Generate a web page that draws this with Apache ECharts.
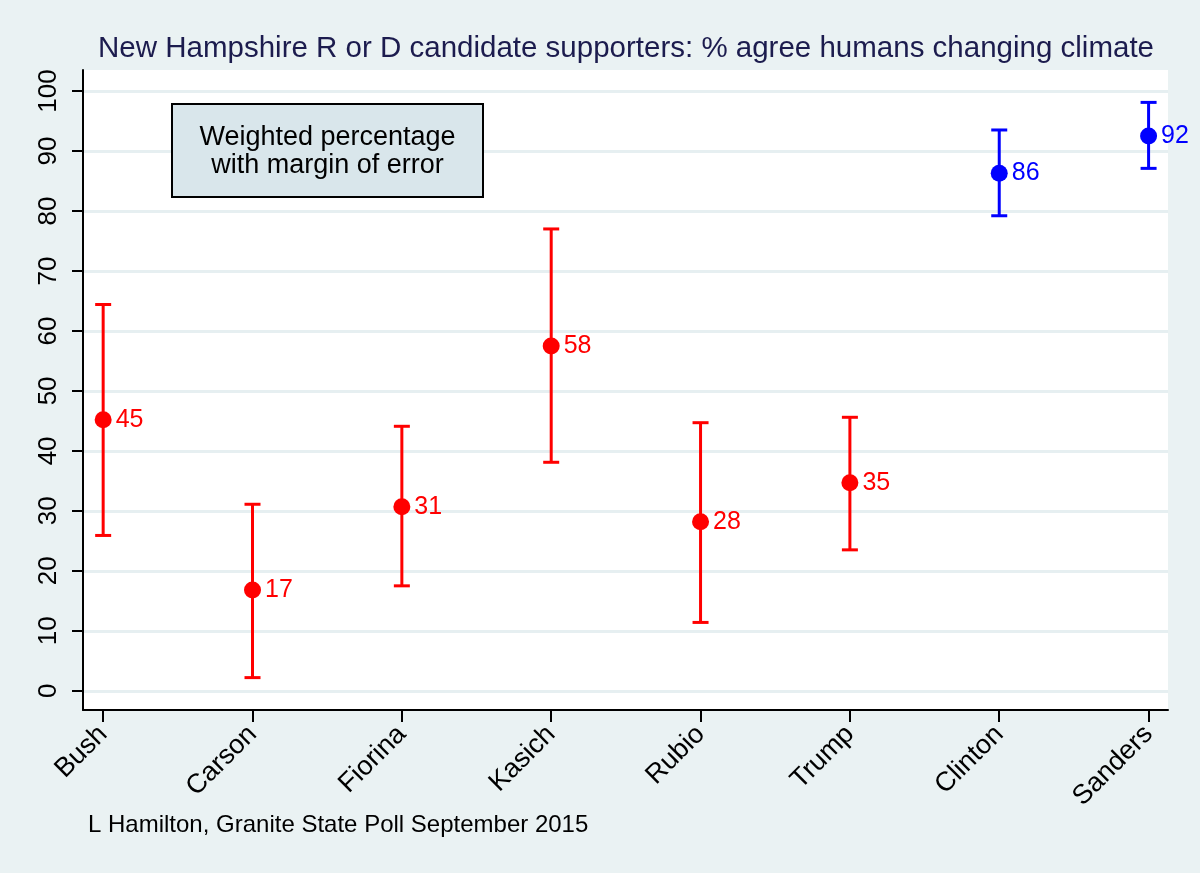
<!DOCTYPE html>
<html>
<head>
<meta charset="utf-8">
<script src="https://cdn.jsdelivr.net/npm/echarts@6/dist/echarts.min.js"></script>
<style>
html,body{margin:0;padding:0;background:#EAF2F3;}
#chart{width:1200px;height:873px;}
</style>
</head>
<body>
<div id="chart"></div>
<script>
const candidates = ['Bush','Carson','Fiorina','Kasich','Rubio','Trump','Clinton','Sanders'];
const party = ['R','R','R','R','R','R','D','D'];
const pct = [45.2, 16.8, 30.7, 57.5, 28.2, 34.7, 86.3, 92.5];
const lower = [25.9, 2.2, 17.5, 38.1, 11.4, 23.5, 79.2, 87.1];
const upper = [64.4, 31.1, 44.1, 77.0, 44.7, 45.6, 93.5, 98.1];
const pctLabels = ['45','17','31','58','28','35','86','92'];
const yTicks = [0,10,20,30,40,50,60,70,80,90,100];
const xTicks = [0,1,2,3,4,5,6,7];

const colorOf = p => p === 'R' ? '#FF0000' : '#0000FF';
const FONT = 'Arial, "Liberation Sans", sans-serif';

const pointData = candidates.map((c, i) => ({
  value: [i, pct[i]],
  itemStyle: {color: colorOf(party[i]), opacity: 1},
  label: {color: colorOf(party[i]), formatter: pctLabels[i]}
}));
const barData = candidates.map((c, i) => [i, lower[i], upper[i], i]);

const chart = echarts.init(document.getElementById('chart'), null, {renderer: 'canvas'});
chart.setOption({
  backgroundColor: '#EAF2F3',
  animation: false,
  textStyle: {fontFamily: FONT},
  grid: {left: 83, right: 32, top: 70, bottom: 163, show: true, backgroundColor: '#FFFFFF', borderWidth: 0},
  xAxis: {
    type: 'value', min: -0.135, max: 7.13,
    axisLine: {show: true, onZero: false, lineStyle: {color: '#000', width: 2}},
    axisTick: {show: true, length: 12, lineStyle: {color: '#000', width: 2}, customValues: xTicks},
    axisLabel: {customValues: xTicks, rotate: 45, margin: 20, fontSize: 27, color: '#000', fontFamily: FONT,
      formatter: v => candidates[Math.round(v)]},
    splitLine: {show: false}
  },
  yAxis: {
    type: 'value', min: -3.2, max: 103.5,
    axisLine: {show: true, onZero: false, lineStyle: {color: '#000', width: 2}},
    axisTick: {show: true, length: 11, lineStyle: {color: '#000', width: 2}, customValues: yTicks},
    axisLabel: {customValues: yTicks, rotate: 90, margin: 21, fontSize: 26, color: '#000', fontFamily: FONT},
    splitLine: {show: true, lineStyle: {color: '#E6EFF1', width: 3}}
  },
  series: [
    {
      type: 'custom',
      data: barData,
      renderItem: function (params, api) {
        const i = api.value(3);
        const x = api.value(0);
        const lo = api.coord([x, api.value(1)]);
        const hi = api.coord([x, api.value(2)]);
        const col = colorOf(party[i]);
        const hw = 8;
        const style = {stroke: col, lineWidth: 3};
        return {
          type: 'group',
          children: [
            {type: 'line', shape: {x1: lo[0], y1: lo[1], x2: hi[0], y2: hi[1]}, style},
            {type: 'line', shape: {x1: lo[0]-hw, y1: lo[1], x2: lo[0]+hw, y2: lo[1]}, style},
            {type: 'line', shape: {x1: hi[0]-hw, y1: hi[1], x2: hi[0]+hw, y2: hi[1]}, style}
          ]
        };
      },
      z: 2
    },
    {
      type: 'scatter',
      data: pointData,
      symbol: 'circle',
      symbolSize: 17,
      label: {show: true, position: 'right', distance: 4, fontSize: 25, fontFamily: FONT},
      z: 3
    }
  ],
  graphic: [
    {type: 'text', x: 626, y: 49, style: {text: 'New Hampshire R or D candidate supporters: % agree humans changing climate',
      font: '29.5px ' + FONT, fill: '#1C1C4E', textAlign: 'center', textVerticalAlign: 'middle'}},
    {type: 'rect', shape: {x: 172, y: 104, width: 311, height: 93},
      style: {fill: '#D9E6EB', stroke: '#000', lineWidth: 2}, z: 10},
    {type: 'text', x: 327.5, y: 152, style: {text: 'Weighted percentage\nwith margin of error',
      font: '27px ' + FONT, fill: '#000', textAlign: 'center', textVerticalAlign: 'middle', lineHeight: 28}, z: 11},
    {type: 'text', x: 88, y: 825, style: {text: 'L Hamilton, Granite State Poll September 2015',
      font: '24px ' + FONT, fill: '#000', textAlign: 'left', textVerticalAlign: 'middle'}}
  ]
});
</script>
</body>
</html>
